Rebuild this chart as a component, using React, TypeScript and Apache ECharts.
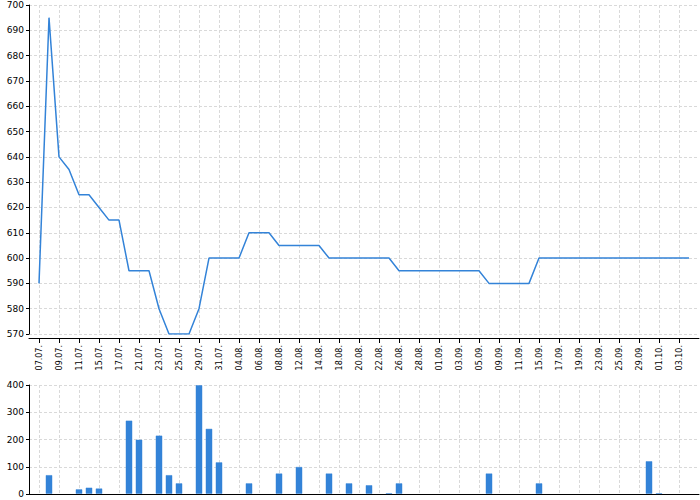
import React, { useEffect, useRef } from "react";
import * as echarts from "echarts";

// Dates shown on the category axis (every other one is labelled)
const dates: string[] = [
  "07.07.", "08.07.", "09.07.", "10.07.", "11.07.", "13.07.", "15.07.", "16.07.",
  "17.07.", "19.07.", "21.07.", "22.07.", "23.07.", "24.07.", "25.07.", "27.07.",
  "29.07.", "30.07.", "31.07.", "02.08.", "04.08.", "05.08.", "06.08.", "07.08.",
  "08.08.", "10.08.", "12.08.", "13.08.", "14.08.", "16.08.", "18.08.", "19.08.",
  "20.08.", "21.08.", "22.08.", "24.08.", "26.08.", "27.08.", "28.08.", "30.08.",
  "01.09.", "02.09.", "03.09.", "04.09.", "05.09.", "07.09.", "09.09.", "10.09.",
  "11.09.", "13.09.", "15.09.", "16.09.", "17.09.", "18.09.", "19.09.", "21.09.",
  "23.09.", "24.09.", "25.09.", "27.09.", "29.09.", "30.09.", "01.10.", "02.10.",
  "03.10.", "04.10.",
];

// Price line (top chart)
const priceValues: number[] = [
  590, 695, 640, 635, 625, 625, 620, 615, 615, 595, 595, 595, 580, 570, 570, 570,
  580, 600, 600, 600, 600, 610, 610, 610, 605, 605, 605, 605, 605, 600, 600, 600,
  600, 600, 600, 600, 595, 595, 595, 595, 595, 595, 595, 595, 595, 590, 590, 590,
  590, 590, 600, 600, 600, 600, 600, 600, 600, 600, 600, 600, 600, 600, 600, 600,
  600, 600,
];

// Volume bars (bottom chart)
const volumeValues: number[] = [
  0, 70, 0, 0, 18, 24, 21, 0, 0, 270, 200, 0, 215, 70, 40, 0,
  400, 240, 117, 0, 0, 40, 0, 0, 76, 0, 100, 0, 0, 76, 0, 40,
  0, 33, 0, 3, 40, 0, 0, 0, 0, 0, 0, 0, 0, 76, 0, 0,
  0, 0, 40, 0, 0, 0, 0, 0, 0, 0, 0, 0, 0, 121, 3, 0,
  0, 0,
];

const priceTicks = { min: 570, max: 700, interval: 10 };
const volumeTicks = { min: 0, max: 400, interval: 100 };

export default function App() {
  const ref = useRef<HTMLDivElement>(null);

  useEffect(() => {
    if (!ref.current) return;
    const chart = echarts.init(ref.current, undefined, { renderer: "svg" });

    // pad one empty category on each side so the first point sits off the y axis
    const cats = ["", ...dates, ""];
    const line = [null, ...priceValues, null];
    const bars = [null, ...volumeValues.map((v) => (v === 0 ? null : v)), null];
    const last = cats.length - 1;
    const shown = (i: number) => i % 2 === 1 && i < last;

    const font = "DejaVu Sans";
    const blue = "#3383d8";
    const split = {
      show: true,
      interval: shown,
      lineStyle: { color: "#d9d9d9", type: [3, 2] as any, width: 1 },
    };

    chart.setOption({
      animation: false,
      backgroundColor: "#ffffff",
      grid: [
        { left: 29, top: 5, width: 670, height: 329 },
        { left: 29, top: 385, width: 670, height: 109 },
      ],
      xAxis: [
        {
          type: "category",
          gridIndex: 0,
          data: cats,
          boundaryGap: false,
          offset: 4,
          axisLine: { lineStyle: { color: "#000", width: 1 } },
          axisTick: { show: true, interval: shown, length: 5, lineStyle: { color: "#000" } },
          axisLabel: {
            interval: shown,
            rotate: 90,
            margin: 7,
            fontSize: 8,
            fontFamily: font,
            color: "#000",
          },
          splitLine: split,
        },
        {
          type: "category",
          gridIndex: 1,
          data: cats,
          boundaryGap: false,
          axisLine: { lineStyle: { color: "#000", width: 1 } },
          axisTick: { show: false },
          axisLabel: { show: false },
          splitLine: split,
        },
      ],
      yAxis: [
        {
          type: "value",
          gridIndex: 0,
          min: priceTicks.min,
          max: priceTicks.max,
          interval: priceTicks.interval,
          axisLine: { show: true, lineStyle: { color: "#000", width: 1 } },
          axisTick: { show: true, length: 3, lineStyle: { color: "#000" } },
          axisLabel: { margin: 5, fontSize: 9, fontFamily: font, color: "#000" },
          splitLine: { show: true, lineStyle: { color: "#d9d9d9", type: [3, 2] as any } },
        },
        {
          type: "value",
          gridIndex: 1,
          min: volumeTicks.min,
          max: volumeTicks.max,
          interval: volumeTicks.interval,
          axisLine: { show: true, lineStyle: { color: "#000", width: 1 } },
          axisTick: { show: true, length: 3, lineStyle: { color: "#000" } },
          axisLabel: { margin: 5, fontSize: 9, fontFamily: font, color: "#000" },
          splitLine: { show: true, lineStyle: { color: "#d9d9d9", type: [3, 2] as any } },
        },
      ],
      series: [
        {
          type: "line",
          xAxisIndex: 0,
          yAxisIndex: 0,
          data: line,
          showSymbol: false,
          symbol: "none",
          connectNulls: false,
          lineStyle: { color: blue, width: 1.5 },
          itemStyle: { color: blue },
        },
        {
          type: "bar",
          xAxisIndex: 1,
          yAxisIndex: 1,
          data: bars,
          barWidth: 7,
          itemStyle: {
            color: blue,
            borderColor: "rgba(51,131,216,0.45)",
            borderWidth: 1,
          },
        },
      ],
    });

    return () => chart.dispose();
  }, []);

  return (
    <div
      ref={ref}
      style={{ position: "absolute", left: 0, top: 0, width: 700, height: 500 }}
    />
  );
}
